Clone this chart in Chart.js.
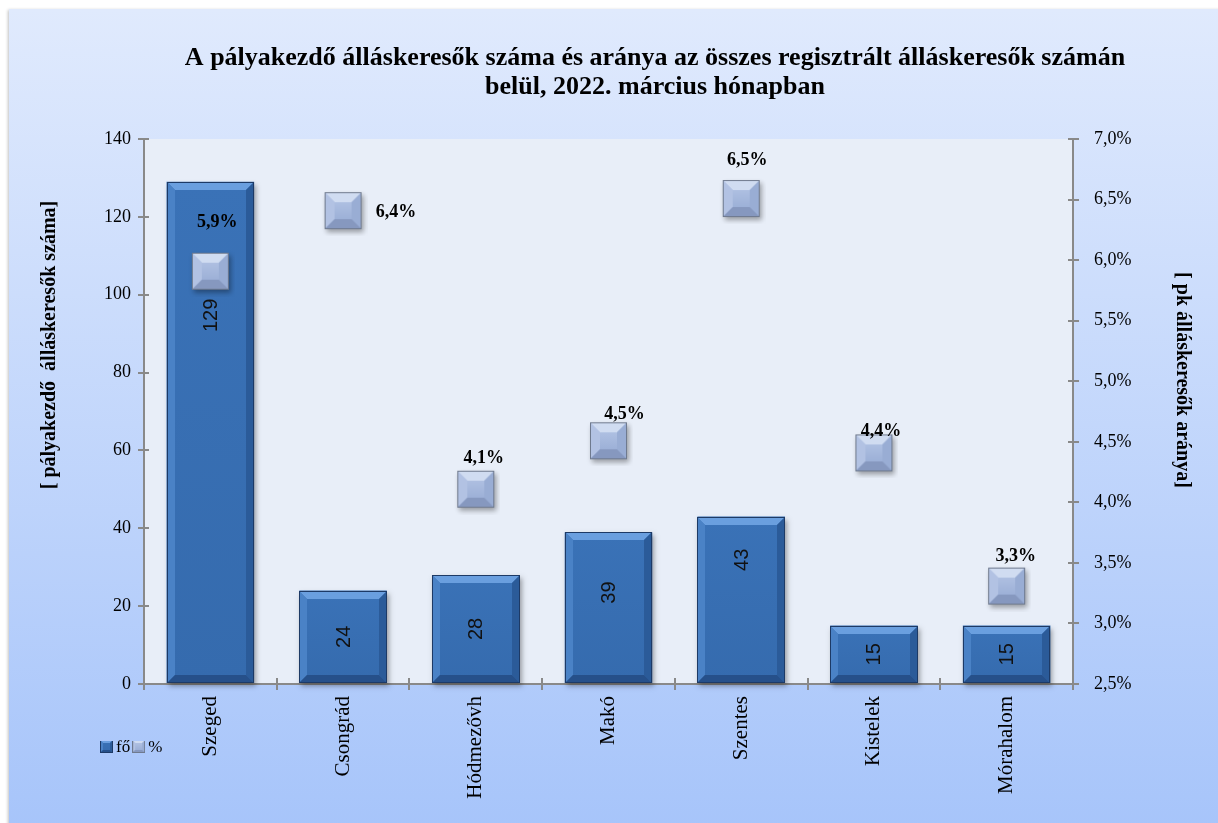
<!DOCTYPE html>
<html>
<head>
<meta charset="utf-8">
<script src="https://cdn.jsdelivr.net/npm/chart.js@4.4.1/dist/chart.umd.min.js"></script>
<style>
  html, body { margin: 0; padding: 0; background: #fff; }
  #card {
    position: absolute; left: 9px; top: 9px; width: 1230px; height: 830px;
    background: linear-gradient(#e0eafd, #a6c4fa);
    box-shadow: -1px 1px 3px rgba(0, 0, 0, 0.25);
  }
  #chart { position: absolute; left: 0; top: 0; }
</style>
</head>
<body>
<div id="card"></div>
<canvas id="chart" width="1218" height="823"></canvas>
<script>
// data
const categories = ['Szeged', 'Csongrád', 'Hódmezővh', 'Makó', 'Szentes', 'Kistelek', 'Mórahalom'];
const jobSeekers = [129, 24, 28, 39, 43, 15, 15];        // fő
const shareOfAll = [5.9, 6.4, 4.1, 4.5, 6.5, 4.4, 3.3];  // %

const titleLines = [
  'A pályakezdő álláskeresők száma és aránya az összes regisztrált álláskeresők számán',
  'belül, 2022. március hónapban'
];
const leftTitle = '[ pályakezdő  álláskeresők száma]';
const rightTitle = '[ pk álláskeresők aránya]';
const legendNames = ['fő', '%'];

const SERIF = '"Liberation Serif", "Times New Roman", serif';
const SANS = '"Liberation Sans", Arial, sans-serif';
const AXIS = '#898989';

const barFaces = { face: '#3a72b7', face2: '#356bae', top: '#6a9fdf', left: '#4a82c6', right: '#2b5b99', bottom: '#26508a', edge: '#1d3a66' };
const markFaces = { face: '#b8c8e7', face2: '#93a8d2', top: '#d0dcf1', left: '#b2c2e3', right: '#99add4', bottom: '#8698bf', edge: '#6f7a8e' };

function poly(g, color, pts) {
  g.fillStyle = color;
  g.beginPath();
  g.moveTo(pts[0][0], pts[0][1]);
  for (let i = 1; i < pts.length; i++) g.lineTo(pts[i][0], pts[i][1]);
  g.closePath();
  g.fill();
}

// bevelled box, used for bars, markers and legend icons
function bevelBox(g, l, t, r, b, e, f, shadow) {
  if (shadow) {
    g.save();
    g.shadowColor = 'rgba(0,0,0,0.35)';
    g.shadowBlur = 5;
    g.shadowOffsetX = 2;
    g.shadowOffsetY = 3;
    g.fillStyle = f.face;
    g.fillRect(l, t, r - l, b - t);
    g.restore();
  }
  const grad = g.createLinearGradient(0, t, 0, b);
  grad.addColorStop(0, f.face);
  grad.addColorStop(1, f.face2);
  g.fillStyle = grad;
  g.fillRect(l, t, r - l, b - t);
  poly(g, f.top, [[l, t], [r, t], [r - e, t + e], [l + e, t + e]]);
  poly(g, f.left, [[l, t], [l + e, t + e], [l + e, b - e], [l, b]]);
  poly(g, f.right, [[r, t], [r, b], [r - e, b - e], [r - e, t + e]]);
  poly(g, f.bottom, [[l, b], [l + e, b - e], [r - e, b - e], [r, b]]);
  g.strokeStyle = f.edge;
  g.lineWidth = 1;
  g.strokeRect(l + 0.5, t + 0.5, r - l - 1, b - t - 1);
}

function makeMarker(size, pad, f, bevel, shadow) {
  const c = document.createElement('canvas');
  c.width = c.height = size + pad * 2;
  const g = c.getContext('2d');
  bevelBox(g, pad, pad - 1, pad + size, pad + size - 1, bevel, f, shadow);
  return c;
}

const markerImg = makeMarker(37, 6, markFaces, 10, true);
const legendBar = makeMarker(13, 0, barFaces, 3, false);
const legendMark = makeMarker(13, 0, markFaces, 3, false);

const fmtPct = v => v.toFixed(1).replace('.', ',') + '%';

const decor = {
  id: 'decor',
  beforeDraw(chart) {
    const { ctx, chartArea: a } = chart;
    ctx.save();
    ctx.fillStyle = '#e8eef8';
    ctx.fillRect(a.left, a.top, a.right - a.left, a.bottom - a.top);
    ctx.restore();
  },
  afterDatasetDraw(chart, args) {
    if (args.index !== 0) return;
    const ctx = chart.ctx;
    ctx.save();
    chart.getDatasetMeta(0).data.forEach(bar => {
      const l = Math.round(bar.x - bar.width / 2), r = Math.round(bar.x + bar.width / 2);
      const t = Math.round(bar.y), b = Math.round(bar.base);
      bevelBox(ctx, l, t, r, b, 8, barFaces, true);
    });
    ctx.restore();
  },
  afterDraw(chart, args, opts) {
    const ctx = chart.ctx;
    const a = chart.chartArea;
    ctx.save();

    // tick marks crossing into the plot area
    ctx.strokeStyle = AXIS;
    ctx.lineWidth = 2;
    ctx.beginPath();
    chart.scales.y.ticks.forEach(t => {
      const py = Math.round(chart.scales.y.getPixelForValue(t.value));
      ctx.moveTo(a.left, py); ctx.lineTo(a.left + 5, py);
    });
    chart.scales.y1.ticks.forEach(t => {
      const py = Math.round(chart.scales.y1.getPixelForValue(t.value));
      ctx.moveTo(a.right, py); ctx.lineTo(a.right - 5, py);
    });
    for (let i = 1; i < categories.length; i++) {
      const px = Math.round((chart.scales.x.getPixelForValue(i) + chart.scales.x.getPixelForValue(i - 1)) / 2);
      ctx.moveTo(px, a.bottom); ctx.lineTo(px, a.bottom - 6);
    }
    ctx.stroke();

    // values inside the bars
    ctx.fillStyle = '#111';
    ctx.font = '20px ' + SANS;
    ctx.textAlign = 'center';
    ctx.textBaseline = 'middle';
    chart.getDatasetMeta(0).data.forEach((bar, i) => {
      const cy = (bar.y + bar.base) / 2 + (opts.barLabelShift[i] || 0);
      ctx.save();
      ctx.translate(bar.x, cy);
      ctx.rotate(-Math.PI / 2);
      ctx.fillText(String(jobSeekers[i]), 0, 1);
      ctx.restore();
    });

    // percentage labels
    ctx.fillStyle = '#000';
    ctx.font = 'bold 18px ' + SERIF;
    chart.getDatasetMeta(1).data.forEach((p, i) => {
      const o = opts.pctLabelOffset[i];
      ctx.fillText(fmtPct(shareOfAll[i]), p.x + o[0], p.y + o[1]);
    });

    // main title
    ctx.font = 'bold 26px ' + SERIF;
    ctx.textBaseline = 'alphabetic';
    ctx.fillText(titleLines[0], 655, 65);
    ctx.fillText(titleLines[1], 655, 94);

    // axis titles
    ctx.font = 'bold 20px ' + SERIF;
    ctx.textBaseline = 'middle';
    ctx.save();
    ctx.translate(50, 345);
    ctx.rotate(-Math.PI / 2);
    ctx.fillText(leftTitle, 0, 0);
    ctx.restore();
    ctx.save();
    ctx.translate(1182, 380);
    ctx.rotate(Math.PI / 2);
    ctx.fillText(rightTitle, 0, 0);
    ctx.restore();

    // legend
    ctx.font = '17px ' + SERIF;
    ctx.textAlign = 'left';
    let lx = 100;
    [legendBar, legendMark].forEach((icon, i) => {
      ctx.drawImage(icon, lx, 741);
      ctx.fillText(legendNames[i], lx + 16, 748);
      lx += 16 + ctx.measureText(legendNames[i]).width + 2;
    });
    ctx.restore();
  }
};

new Chart(document.getElementById('chart'), {
  data: {
    labels: categories,
    datasets: [
      {
        type: 'bar',
        label: legendNames[0],
        data: jobSeekers,
        yAxisID: 'y',
        backgroundColor: barFaces.face,
        borderWidth: 0,
        categoryPercentage: 1,
        barPercentage: 0.66,
        order: 1
      },
      {
        type: 'line',
        label: legendNames[1],
        data: shareOfAll,
        yAxisID: 'y1',
        showLine: false,
        pointStyle: markerImg,
        pointRadius: 5,
        pointHoverRadius: 5,
        order: 0
      }
    ]
  },
  options: {
    responsive: false,
    animation: false,
    layout: { padding: { top: 139, left: 0, right: 0, bottom: 0 } },
    plugins: {
      legend: { display: false },
      title: { display: false },
      tooltip: { enabled: false },
      decor: {
        barLabelShift: [-117, 0, 0, -15, -40, 0, 0],
        pctLabelOffset: [[7, -50], [53, 1], [8, -32], [16, -27], [6, -39], [7, -23], [9, -31]]
      }
    },
    scales: {
      x: {
        offset: true,
        grid: { offset: true, drawOnChartArea: false, tickLength: 6, color: AXIS, lineWidth: 2 },
        border: { color: AXIS, width: 2 },
        ticks: { autoSkip: false, minRotation: 90, maxRotation: 90, padding: 6, color: '#000', font: { family: SERIF, size: 21 } },
        afterFit: s => { s.height = 139; }
      },
      y: {
        position: 'left',
        min: 0,
        max: 140,
        grid: { drawOnChartArea: false, tickLength: 6, color: AXIS, lineWidth: 2 },
        border: { color: AXIS, width: 2 },
        ticks: { stepSize: 20, padding: 7, color: '#000', font: { family: SERIF, size: 18 } },
        afterFit: s => { s.width = 144; }
      },
      y1: {
        position: 'right',
        min: 2.5,
        max: 7,
        grid: { drawOnChartArea: false, tickLength: 6, color: AXIS, lineWidth: 2 },
        border: { color: AXIS, width: 2 },
        ticks: { stepSize: 0.5, padding: 15, color: '#000', font: { family: SERIF, size: 18 }, callback: v => fmtPct(v) },
        afterFit: s => { s.width = 145; }
      }
    }
  },
  plugins: [decor]
});
</script>
</body>
</html>
